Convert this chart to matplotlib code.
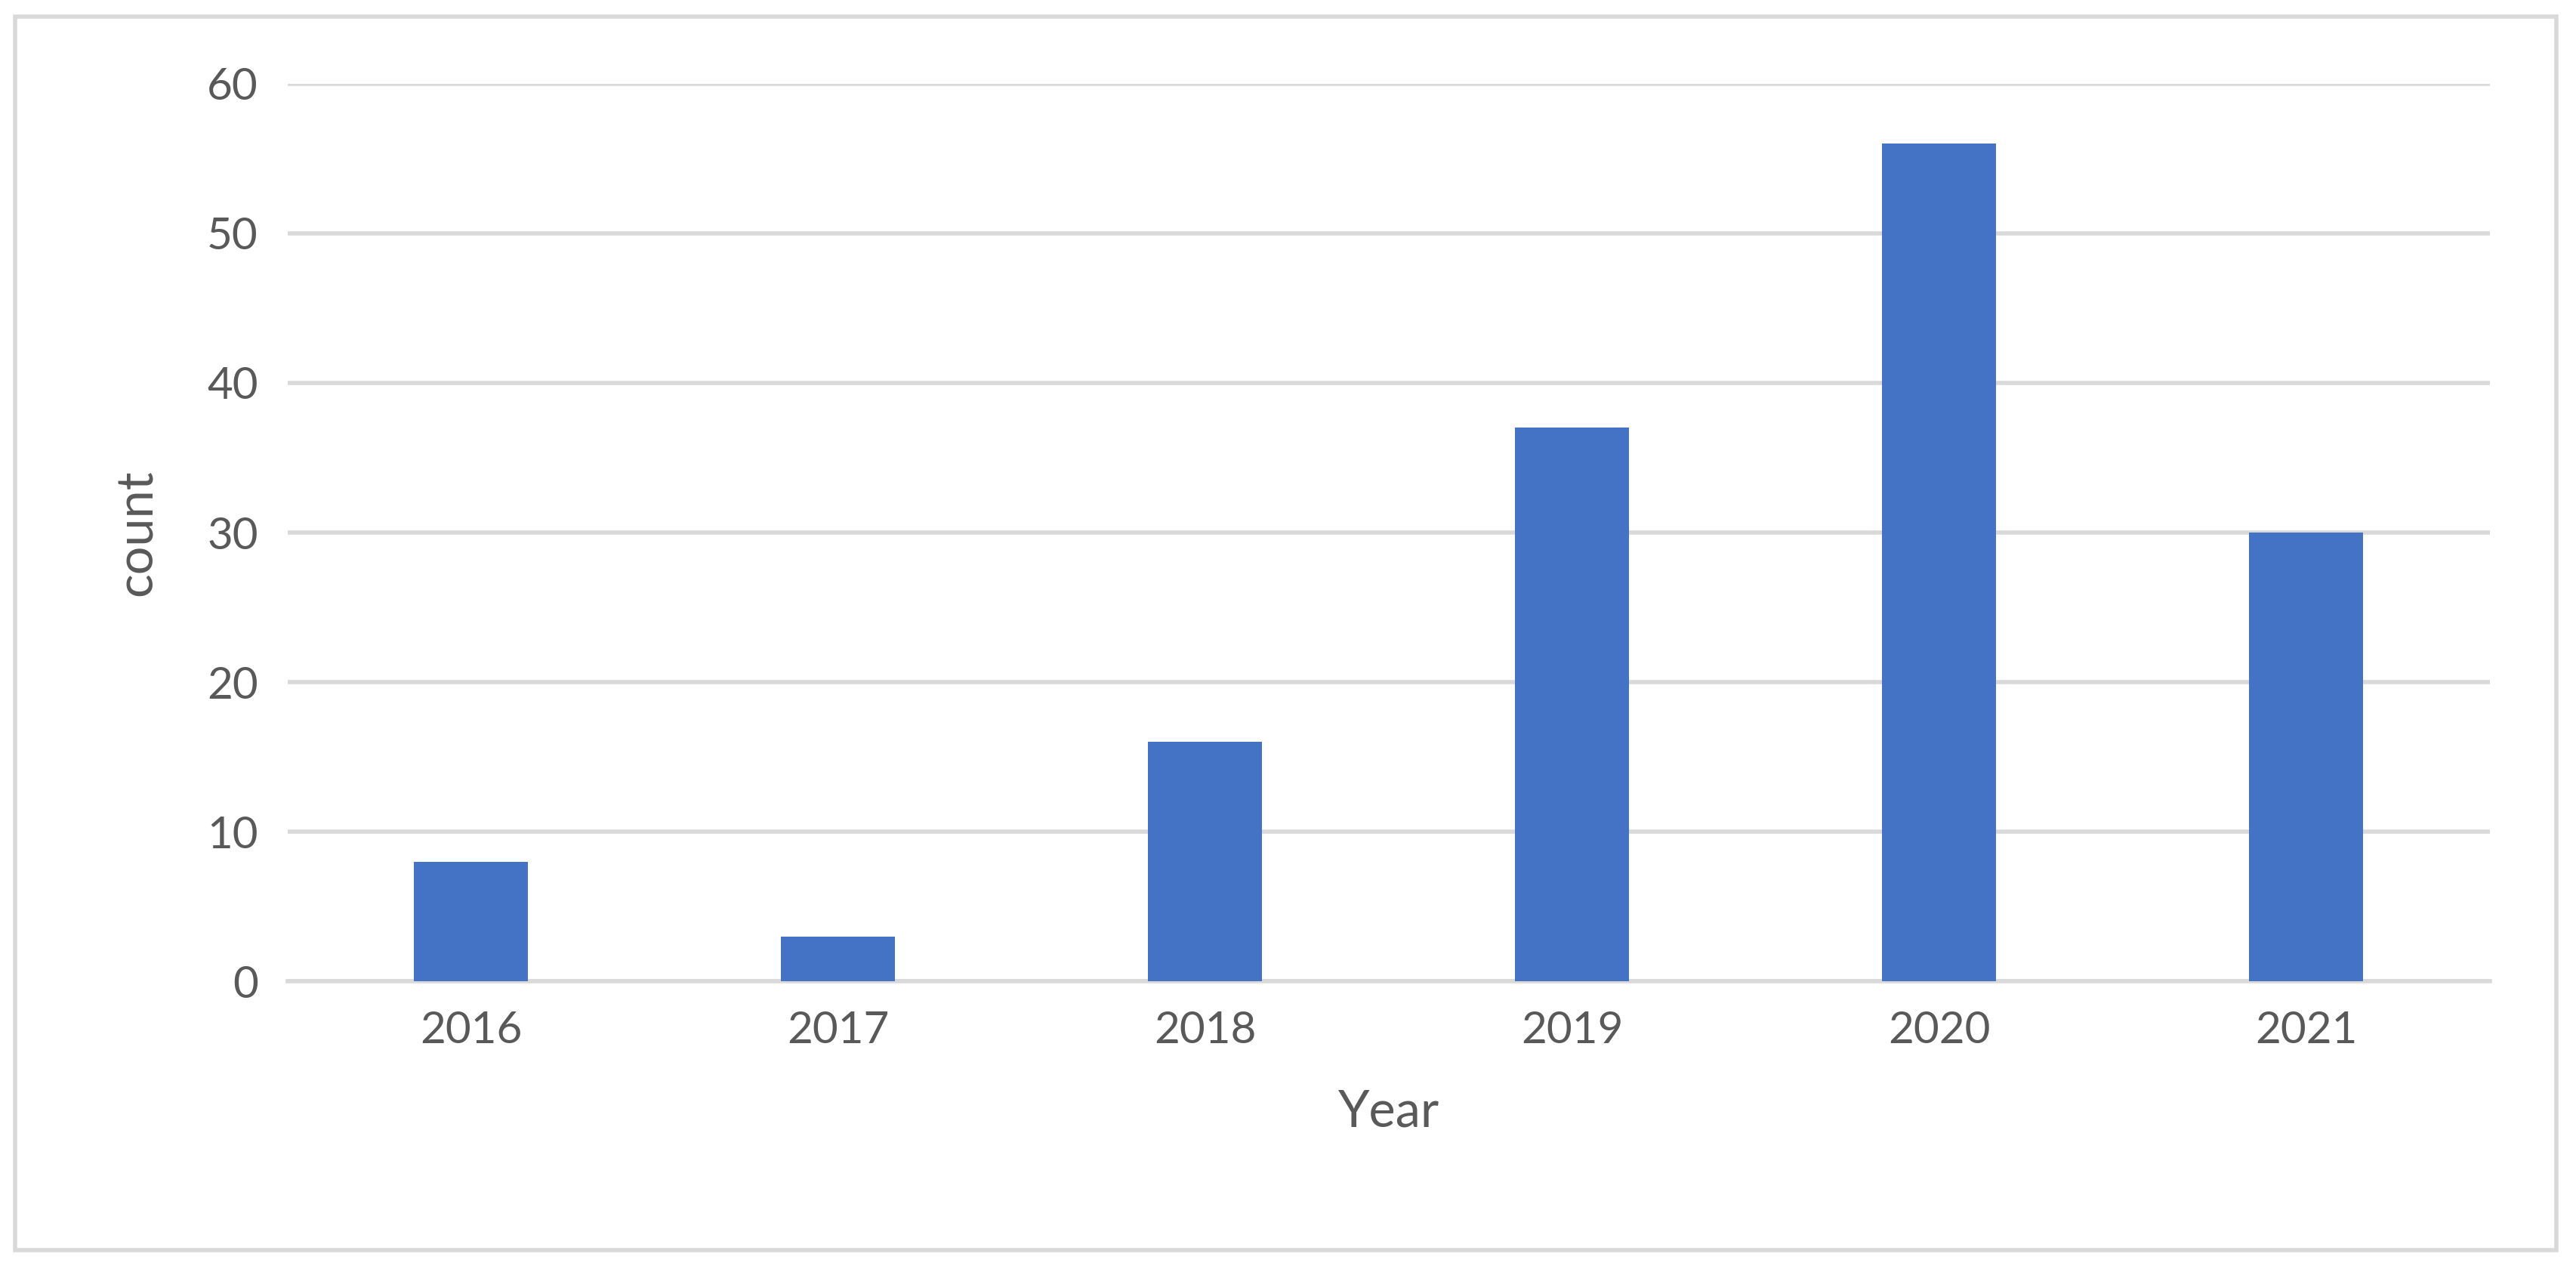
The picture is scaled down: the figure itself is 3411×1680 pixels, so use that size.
import matplotlib
matplotlib.use("Agg")
import matplotlib.pyplot as plt
from matplotlib.patches import Rectangle

years = ["2016", "2017", "2018", "2019", "2020", "2021"]
counts = [8, 3, 16, 37, 56, 30]

plt.rcParams['font.family'] = ['Lato', 'DejaVu Sans']
fig = plt.figure(figsize=(17.06, 8.4), dpi=200)
fig.patches.append(Rectangle((0.006, 0.015), 0.986, 0.972, transform=fig.transFigure,
                             fill=False, edgecolor='#D9D9D9', linewidth=2))
ax = fig.add_axes([0.1116, 0.2267, 0.8546, 0.7073])
x = list(range(len(years)))
ax.bar(x, counts, width=0.31, color='#4472C4', zorder=3)
ax.set_xlim(-0.5, 5.5)
ax.set_ylim(0, 60)
ax.set_yticks(range(0, 61, 10))
ax.set_xticks(x)
ax.set_xticklabels(years)
ax.grid(axis='y', color='#D9D9D9', linewidth=2, zorder=0)
for s in ['top', 'right', 'left']:
    ax.spines[s].set_visible(False)
ax.spines['bottom'].set_color('#D9D9D9')
ax.spines['bottom'].set_linewidth(2)
ax.tick_params(length=0, labelsize=21, colors='#595959', pad=14)
ax.set_xlabel("Year", fontsize=24, color='#595959', labelpad=18)
ax.set_ylabel("count", fontsize=24, color='#595959', labelpad=22)
fig.savefig("out.png", dpi=200)
